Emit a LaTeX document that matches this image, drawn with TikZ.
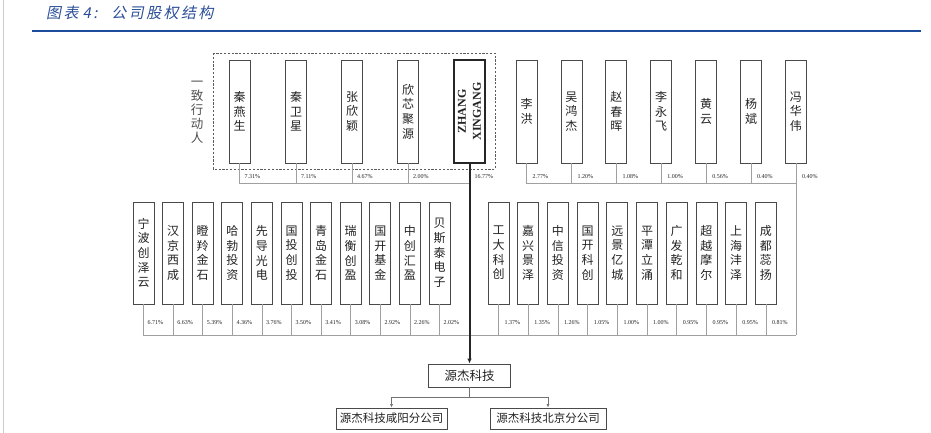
\documentclass[tikz,border=0pt]{standalone}
\usepackage{fontspec}
\setmainfont{Liberation Serif}
\newfontfamily\cjk{Noto Sans CJK SC}
\newfontfamily\cjkt[FakeSlant=0.2,LetterSpace=16]{Noto Sans CJK SC}
\usetikzlibrary{arrows.meta}
\definecolor{boxc}{HTML}{4A4A4A}
\definecolor{busc}{HTML}{A0A0A0}
\definecolor{txt}{HTML}{222222}
\definecolor{titleblue}{HTML}{2A4E98}
\definecolor{rulec}{HTML}{1E4C9C}
\begin{document}
\begin{tikzpicture}[x=1pt,y=-1pt,
  box/.style={draw=boxc, line width=0.8pt, minimum width=21pt, minimum height=103pt, inner sep=0pt, align=center, text=txt, font=\cjk\fontsize{12}{14.7}\selectfont},
  hbox/.style={draw=boxc, line width=0.8pt, inner sep=0pt, text=txt},
  bus/.style={draw=busc, line width=0.6pt},
  pct/.style={font=\fontsize{6}{7}\selectfont, text=txt, anchor=west, inner sep=0pt}]
\useasboundingbox (0,0) rectangle (931,433);
% frame line and header
\draw[black!20, line width=1pt] (3.5,0) -- (3.5,433);
\node[anchor=west, inner sep=0pt, text=titleblue, font=\cjkt\fontsize{15}{18}\selectfont] (title) at (46,13) {图表\hspace{4pt}4:\hspace{14pt}公司股权结构};
\draw[rulec, line width=2.5pt] (32,31) -- (921,31);

% acting-in-concert group
\draw[boxc!90, line width=0.8pt, dash pattern=on 2.2pt off 1.6pt] (213,53) rectangle (495,169);
\node[align=center, inner sep=0pt, text=txt!80, font=\cjk\fontsize{12.5}{14}\selectfont] (yz) at (197,112) {一\\致\\行\\动\\人};

\node[box] (p1) at (239.5,111.5) {秦\\燕\\生};
\node[box] (p2) at (296,111.5) {秦\\卫\\星};
\node[box] (p3) at (352,111.5) {张\\欣\\颖};
\node[box] (p4) at (408,111.5) {欣\\芯\\聚\\源};
\node[box, minimum width=31pt, line width=1.4pt, draw=black!85] (zx) at (469.5,111.5) {};
\node[rotate=90, align=center, inner sep=0pt, text=txt, font=\bfseries\fontsize{12}{15}\selectfont] (zxt) at (zx.center) {ZHANG\\XINGANG};

% other individuals
\foreach \t [count=\i] in {{李\\洪},{吴\\鸿\\杰},{赵\\春\\晖},{李\\永\\飞},{黄\\云},{杨\\斌},{冯\\华\\伟}}
  \node[box] (q\i) at ({526.5+44.9*(\i-1)},111.5) {\t};

% institutions
\foreach \t [count=\i] in {{宁\\波\\创\\泽\\云},{汉\\京\\西\\成},{瞪\\羚\\金\\石},{哈\\勃\\投\\资},{先\\导\\光\\电},{国\\投\\创\\投},{青\\岛\\金\\石},{瑞\\衡\\创\\盈},{国\\开\\基\\金},{中\\创\\汇\\盈},{贝\\斯\\泰\\电\\子}}
  \node[box, minimum height=102pt] (c\i) at ({143.5+29.6*(\i-1)},253) {\t};
\foreach \t [count=\i] in {{工\\大\\科\\创},{嘉\\兴\\景\\泽},{中\\信\\投\\资},{国\\开\\科\\创},{远\\景\\亿\\城},{平\\潭\\立\\涌},{广\\发\\乾\\和},{超\\越\\摩\\尔},{上\\海\\沣\\泽},{成\\都\\蕊\\扬}}
  \node[box, minimum height=102pt] (d\i) at ({498.5+29.7*(\i-1)},253) {\t};

% company and branches
\node[hbox, minimum width=82pt, minimum height=23pt, font=\cjk\fontsize{12.5}{14}\selectfont] (main) at (469.5,375.5) {源杰科技};
\node[hbox, minimum width=111pt, minimum height=21pt, font=\cjk\fontsize{11.5}{13}\selectfont] (k1) at (391.5,418.5) {源杰科技咸阳分公司};
\node[hbox, minimum width=116pt, minimum height=21pt, font=\cjk\fontsize{11.5}{13}\selectfont] (k2) at (548,418.5) {源杰科技北京分公司};

% bus lines
\coordinate (busA) at (0,183);
\coordinate (busB) at (0,335);
\draw[bus] (p1.south) -- (p1.south |- busA) -- (zx.south |- busA);
\foreach \i in {2,3,4} \draw[bus] (p\i.south) -- (p\i.south |- busA);
\draw[bus] (q1.south) -- (q1.south |- busA) -- (q7.south |- busA);
\foreach \i in {2,...,6} \draw[bus] (q\i.south) -- (q\i.south |- busA);
\draw[bus] (q7.south) -- (q7.south |- busB);
\draw[bus] (c1.south) -- (c1.south |- busB) -- (q7.south |- busB);
\foreach \i in {2,...,11} \draw[bus] (c\i.south) -- (c\i.south |- busB);
\foreach \i in {1,...,10} \draw[bus] (d\i.south) -- (d\i.south |- busB);

% main control arrow
\draw[black!85, line width=2pt, -{Latex[length=5pt,width=4.5pt]}] (zx.south) -- (main.north);
\draw[draw=black!55, line width=0.6pt, -{Latex[length=3.5pt,width=3pt]}] (main.south) -- ++(0,10) -| (k1.north);
\draw[draw=black!55, line width=0.6pt, -{Latex[length=3.5pt,width=3pt]}] (main.south) -- ++(0,10) -| (k2.north);

% percentages
\foreach \v/\x in {7.31/239.5, 7.11/296, 4.67/352, 2.00/408, 16.77/469.5}
  \node[pct] at (\x+5,177) {\v\%};
\foreach \v [count=\i] in {2.77,1.20,1.08,1.00,0.56,0.40,0.40}
  \node[pct] at ({526.5+44.9*(\i-1)+6},177) {\v\%};
\foreach \v [count=\i] in {6.71,6.63,5.39,4.36,3.76,3.50,3.41,3.08,2.92,2.26,2.02}
  \node[pct] at ({143.5+29.6*(\i-1)+4},323) {\v\%};
\foreach \v [count=\i] in {1.37,1.35,1.26,1.05,1.00,1.00,0.95,0.95,0.95,0.81}
  \node[pct] at ({498.5+29.7*(\i-1)+6},323) {\v\%};
\end{tikzpicture}
\end{document}
